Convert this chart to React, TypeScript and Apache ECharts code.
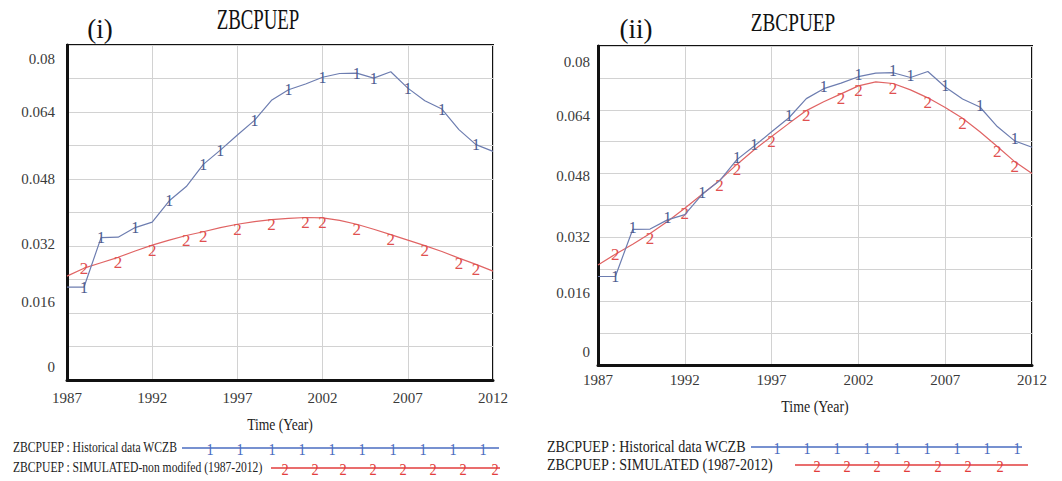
import React, { useEffect, useRef } from "react";
import * as echarts from "echarts";

// ---------- data ----------
const years = [
  1987, 1988, 1989, 1990, 1991, 1992, 1993, 1994, 1995, 1996, 1997, 1998, 1999,
  2000, 2001, 2002, 2003, 2004, 2005, 2006, 2007, 2008, 2009, 2010, 2011, 2012,
];
const historicalWCZB = [
  0.0222, 0.0222, 0.034, 0.0341, 0.0364, 0.0377, 0.0428, 0.0462, 0.0515, 0.0549,
  0.0585, 0.062, 0.0668, 0.0693, 0.0707, 0.0723, 0.0732, 0.0733, 0.0721, 0.0736,
  0.0697, 0.0667, 0.0647, 0.0598, 0.0562, 0.0546,
];
const simulatedNonModified = [
  0.0248, 0.0267, 0.028, 0.0293, 0.0308, 0.0322, 0.0334, 0.0345, 0.0354, 0.0364,
  0.0372, 0.0378, 0.0383, 0.0386, 0.0388, 0.0387, 0.0381, 0.0372, 0.036, 0.0347,
  0.0334, 0.0321, 0.0307, 0.0291, 0.0276, 0.026,
];
const simulatedModified = [
  0.0251, 0.0278, 0.0303, 0.033, 0.036, 0.0393, 0.0428, 0.0463, 0.0503, 0.054,
  0.0573, 0.0606, 0.0638, 0.066, 0.068, 0.07, 0.071, 0.0706, 0.069, 0.067,
  0.0646, 0.0619, 0.0585, 0.0548, 0.051, 0.048,
];
const historicalMarkerYears = [1988, 1989, 1991, 1993, 1995, 1996, 1998, 2000, 2002, 2004, 2005, 2007, 2009, 2011];
const simulatedMarkerYears = [1988, 1990, 1992, 1994, 1995, 1997, 1999, 2001, 2002, 2004, 2006, 2008, 2010, 2011];
const xTickLabels = [1987, 1992, 1997, 2002, 2007, 2012];
const yTickLabels = [0, 0.016, 0.032, 0.048, 0.064, 0.08];
const chartTitle = "ZBCPUEP";
const panelLabels = ["(i)", "(ii)"];
const xAxisName = "Time (Year)";
const legendTextsLeft = ["ZBCPUEP : Historical data WCZB", "ZBCPUEP : SIMULATED-non modifed (1987-2012)"];
const legendTextsRight = ["ZBCPUEP : Historical data WCZB", "ZBCPUEP : SIMULATED (1987-2012)"];

// ---------- styling / layout ----------
const FONT = "'Liberation Serif', 'Times New Roman', serif";
const BLUE_LINE = "#6d7db0";
const BLUE_MARK = "#4d5c90";
const RED_LINE = "#e06464";
const RED_MARK = "#e05050";
const LEG_BLUE = "#4a6cc0";
const LEG_RED = "#e23c3c";

const grids = [
  { left: 67, top: 45, width: 426, height: 335 },
  { left: 598, top: 46, width: 434, height: 319 },
];
// vertical shift (px) of each y tick label, same order as yTickLabels
const yLabelShift = [
  [-13, -11, -2, 0, 0, 14],
  [-13, -8, 0, 2, 6, 16],
];
const xLabelMargin = [10, 7];
const yLabelMargin = [12, 8];
// marker glyphs drawn centred on the line in these years (others use the series offset)
const centredMarkerYears = [1988];

function buildData(values: number[], markerYears: number[], mark: string, color: string, size: number, offset: number[]) {
  return years.map((yr, i) => {
    const item: any = { value: [yr - years[0], values[i]] };
    if (markerYears.includes(yr)) {
      item.label = {
        show: true,
        formatter: mark,
        position: "inside",
        offset: centredMarkerYears.includes(yr) ? [0, 0] : offset,
        color,
        fontFamily: FONT,
        fontSize: size,
      };
    }
    return item;
  });
}

function yRich(panel: number) {
  const rich: any = {};
  yTickLabels.forEach((_, i) => {
    const s = yLabelShift[panel][i];
    rich["o" + i] = {
      fontFamily: FONT,
      fontSize: 15,
      color: "#3a3a3a",
      padding: s >= 0 ? [2 * s, 0, 0, 0] : [0, 0, -2 * s, 0],
    };
  });
  return rich;
}

function yFormatter(v: number) {
  const idx = yTickLabels.findIndex((t) => Math.abs(t - v) < 1e-6);
  if (idx < 0) return "";
  const txt = parseFloat(yTickLabels[idx].toFixed(3)).toString();
  return "{o" + idx + "|" + txt + "}";
}

function txt(text: string, x: number, y: number, size: number, scaleX: number, align = "center", fill = "#111") {
  return {
    type: "text",
    x,
    y,
    scaleX,
    silent: true,
    style: {
      text,
      fontFamily: FONT,
      fontSize: size,
      fill,
      textAlign: align,
      align,
      textVerticalAlign: "middle",
      verticalAlign: "middle",
    },
  };
}

function legendRow(
  label: string,
  y: number,
  textX: number,
  size: number,
  scaleX: number,
  lineFrom: number,
  lineTo: number,
  markXs: number[],
  mark: string,
  color: string
) {
  const els: any[] = [txt(label, textX, y, size, scaleX, "left", "#222")];
  els.push({
    type: "line",
    silent: true,
    shape: { x1: lineFrom, y1: y, x2: lineTo, y2: y },
    style: { stroke: color, lineWidth: 1.3 },
  });
  markXs.forEach((mx) => els.push(txt(mark, mx, y + 1, 16, 0.9, "center", color)));
  return els;
}

export default function App() {
  const ref = useRef<HTMLDivElement>(null);

  useEffect(() => {
    if (!ref.current) return;
    const chart = echarts.init(ref.current, undefined, { renderer: "svg" });

    const xAxes = [0, 1].map((i) => ({
      type: "value",
      gridIndex: i,
      min: 0,
      max: xTickLabels[xTickLabels.length - 1] - xTickLabels[0],
      interval: 5,
      axisLine: { show: true, onZero: false, lineStyle: { color: "#111", width: 3 } },
      axisTick: { show: false },
      splitLine: { show: true, lineStyle: { color: "#d2d2d2", width: 1 } },
      axisLabel: {
        margin: xLabelMargin[i],
        fontFamily: FONT,
        fontSize: 15,
        color: "#3a3a3a",
        formatter: (v: number) => String(v + xTickLabels[0]),
      },
    }));

    const yAxes = [0, 1].map((i) => ({
      type: "value",
      gridIndex: i,
      min: 0,
      max: 0.08,
      interval: 0.008,
      axisLine: { show: true, onZero: false, lineStyle: { color: "#111", width: 3 } },
      axisTick: { show: false },
      splitLine: { show: true, lineStyle: { color: "#d2d2d2", width: 1 } },
      axisLabel: {
        margin: yLabelMargin[i],
        fontFamily: FONT,
        fontSize: 15,
        color: "#3a3a3a",
        formatter: yFormatter,
        rich: yRich(i),
      },
    }));

    const lineSeries = (
      idx: number,
      values: number[],
      markers: number[],
      mark: string,
      lc: string,
      mc: string,
      size: number,
      offset: number[]
    ) => ({
      type: "line",
      xAxisIndex: idx,
      yAxisIndex: idx,
      data: buildData(values, markers, mark, mc, size, offset),
      symbol: "circle",
      symbolSize: 0,
      showSymbol: true,
      showAllSymbol: true,
      lineStyle: { color: lc, width: 1.2 },
      itemStyle: { color: lc },
      emphasis: { disabled: true },
      z: mark === "2" ? 3 : 4,
    });

    const graphic: any[] = [
      txt(chartTitle, 258, 19, 29, 0.65),
      txt(panelLabels[0], 100, 29, 27, 1),
      txt(chartTitle, 793, 22, 26, 0.74),
      txt(panelLabels[1], 636, 29, 27, 1),
      txt(xAxisName, 280, 424, 17, 0.8, "center", "#222"),
      txt(xAxisName, 815, 406, 17, 0.82, "center", "#222"),
      ...legendRow(legendTextsLeft[0], 448, 13, 14, 0.83, 182, 499,
        [210, 240, 272, 302, 332, 362, 393, 423, 453, 483], "1", LEG_BLUE),
      ...legendRow(legendTextsLeft[1], 468, 13, 14, 0.83, 271, 500,
        [285, 315, 343, 373, 403, 433, 463, 495], "2", LEG_RED),
      ...legendRow(legendTextsRight[0], 447, 547, 16, 0.88, 751, 1022,
        [777, 807, 837, 867, 897, 927, 957, 987, 1017], "1", LEG_BLUE),
      ...legendRow(legendTextsRight[1], 465, 547, 16, 0.88, 795, 1028,
        [817, 847, 877, 907, 938, 968, 1000], "2", LEG_RED),
    ];

    chart.setOption({
      animation: false,
      backgroundColor: "#fff",
      grid: grids.map((g) => ({ ...g, show: true, borderColor: "#111", borderWidth: 2, containLabel: false })),
      xAxis: xAxes,
      yAxis: yAxes,
      series: [
        lineSeries(0, historicalWCZB, historicalMarkerYears, "1", BLUE_LINE, BLUE_MARK, 16, [0, 0]),
        lineSeries(0, simulatedNonModified, simulatedMarkerYears, "2", RED_LINE, RED_MARK, 17, [0, 5]),
        lineSeries(1, historicalWCZB, historicalMarkerYears, "1", BLUE_LINE, BLUE_MARK, 16, [0, -2]),
        lineSeries(1, simulatedModified, simulatedMarkerYears, "2", RED_LINE, RED_MARK, 17, [0, 5]),
      ],
      graphic,
    });

    return () => chart.dispose();
  }, []);

  return (
    <div
      ref={ref}
      style={{ position: "fixed", left: 0, top: 0, width: 1062, height: 481, background: "#fff" }}
    />
  );
}
